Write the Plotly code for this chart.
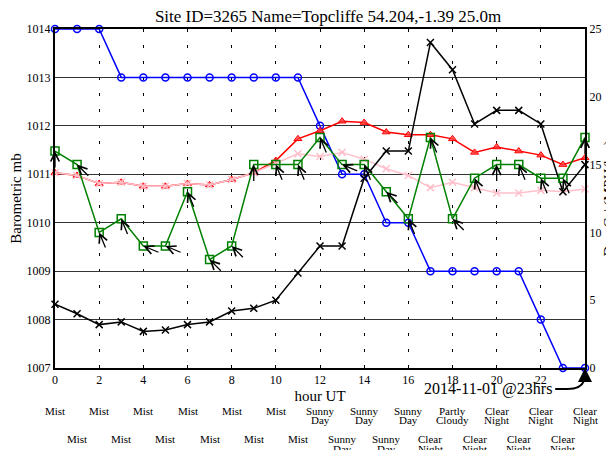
import plotly.graph_objects as go
import math

# ---------------- data ----------------
hours = list(range(25))
pressure = [1014, 1014, 1014, 1013, 1013, 1013, 1013, 1013, 1013, 1013, 1013, 1013,
            1012, 1011, 1011, 1010, 1010, 1009, 1009, 1009, 1009, 1009, 1008, 1007, 1007]
visibility = [4.7, 4.0, 3.2, 3.4, 2.7, 2.8, 3.2, 3.4, 4.2, 4.4, 5.0, 7.0,
              9, 9, 14, 16, 16, 24, 22, 18, 19, 19, 18, 13, 15]
temperature = [14.4, 14.2, 13.6, 13.7, 13.4, 13.4, 13.6, 13.5, 13.9, 14.4, 15.3, 16.9,
               17.5, 18.2, 18.1, 17.4, 17.2, 17.2, 16.9, 15.9, 16.3, 16.0, 15.7, 15.0, 15.5]
dewpoint = [14.4, 14.2, 13.6, 13.7, 13.4, 13.4, 13.6, 13.5, 13.9, 14.4, 15.1, 15.8,
            15.6, 15.9, 15.4, 14.7, 14.2, 13.3, 13.7, 13.3, 12.9, 12.9, 13.1, 13.0, 13.2]
wind_speed = [16, 15, 10, 11, 9, 9, 13, 8, 9, 15, 15, 15,
              17, 15, 15, 13, 11, 17, 11, 14, 15, 15, 14, 14, 17]
wind_dir = ["S", "SE", "SSE", "SSE", "ESE", "ESE", "SSE", "SE", "SE", "S", "SSE", "SSE",
            "SSE", "ESE", "SSE", "SE", "SSE", "SSE", "SE", "SSE", "S", "SSE", "SSE", "SSE", "S"]
weather = ["Mist"] * 12 + ["Sunny Day"] * 5 + ["Clear Night", "Partly Cloudy"] + ["Clear Night"] * 6
xtick_vals = list(range(0, 23, 2))
left_ticks = list(range(1007, 1015))
right_ticks = list(range(0, 26, 5))

title_text = "Site ID=3265 Name=Topcliffe 54.204,-1.39 25.0m"
stamp_text = "2014-11-01 @23hrs"
right_title = "Deg C / (MPH/km)"

compass = {"N": 0, "NNE": 22.5, "NE": 45, "ENE": 67.5, "E": 90, "ESE": 112.5, "SE": 135,
           "SSE": 157.5, "S": 180, "SSW": 202.5, "SW": 225, "WSW": 247.5, "W": 270,
           "WNW": 292.5, "NW": 315, "NNW": 337.5}

FONT = "Liberation Serif, Times New Roman, serif"

fig = go.Figure()

fig.add_trace(go.Scatter(x=hours, y=temperature, yaxis="y2", mode="lines+markers",
                         line=dict(color="red", width=1.5),
                         marker=dict(symbol="triangle-up", size=7, color="rgba(255,60,60,0.75)",
                                     line=dict(color="red", width=1)),
                         cliponaxis=False))
fig.add_trace(go.Scatter(x=hours, y=dewpoint, yaxis="y2", mode="lines+markers",
                         line=dict(color="pink", width=1.5),
                         marker=dict(symbol="x-thin-open", size=7, color="pink",
                                     line=dict(color="pink", width=1.5)),
                         cliponaxis=False))
fig.add_trace(go.Scatter(x=hours, y=pressure, mode="lines+markers",
                         line=dict(color="blue", width=1.5),
                         marker=dict(symbol="circle-open", size=7, color="blue",
                                     line=dict(color="blue", width=1.5)),
                         cliponaxis=False))
fig.add_trace(go.Scatter(x=hours, y=visibility, yaxis="y2", mode="lines+markers",
                         line=dict(color="black", width=1.5),
                         marker=dict(symbol="x-thin-open", size=7, color="black",
                                     line=dict(color="black", width=1.5)),
                         cliponaxis=False))
fig.add_trace(go.Scatter(x=hours, y=wind_speed, yaxis="y2", mode="lines+markers",
                         line=dict(color="green", width=1.5),
                         marker=dict(symbol="square-open", size=8, color="green",
                                     line=dict(color="green", width=1.5)),
                         cliponaxis=False))

annotations = []
# wind direction arrows
L = 18
for h, s, d in zip(hours, wind_speed, wind_dir):
    th = math.radians(compass[d])
    annotations.append(dict(x=h, y=s, xref="x", yref="y2", text="", showarrow=True,
                            ax=L * math.sin(th), ay=-L * math.cos(th),
                            arrowhead=5, arrowsize=1.3, arrowwidth=1.3, arrowcolor="black",
                            standoff=0, startstandoff=0))

# weather labels (two staggered rows)
row_first = [-0.126, -0.210]
line_dy = 0.028
for h, w in zip(hours, weather):
    r = h % 2
    for k, word in enumerate(w.split(" ")):
        annotations.append(dict(x=h, y=row_first[r] - k * line_dy, xref="x", yref="paper",
                                text=word, showarrow=False, yanchor="middle", xanchor="center",
                                font=dict(family=FONT, size=11, color="black")))

# date stamp
annotations.append(dict(x=19.6, y=-0.062, xref="x", yref="paper", text=stamp_text,
                        showarrow=False, xanchor="center", yanchor="middle",
                        font=dict(family=FONT, size=16, color="black")))
annotations.append(dict(x=hours[-1], y=pressure[-1], xref="x", yref="y", text="",
                        showarrow=True, ax=0, ay=12, arrowhead=2, arrowsize=1.4,
                        arrowwidth=2, arrowcolor="black", standoff=0))

# right-hand axis title (mostly beyond the window edge, as in the original)
annotations.append(dict(x=1.047, y=0.5, xref="paper", yref="paper", text=right_title,
                        showarrow=False, textangle=-90, xanchor="center", yanchor="middle",
                        font=dict(family=FONT, size=15, color="black")))

shapes = [dict(type="path", xref="x", yref="paper",
               path="M 22.65,-0.062 L 23.2,-0.062 Q 24,-0.062 24,-0.02",
               line=dict(color="black", width=2))]

# page has an 8px body margin, so the figure is sized to fit the 614x450 window
fig.update_layout(
    width=606, height=442,
    margin=dict(l=47, r=29, t=21, b=82, autoexpand=False),
    paper_bgcolor="white", plot_bgcolor="white",
    showlegend=False,
    font=dict(family=FONT, color="black", size=12),
    title=dict(text=title_text, x=0.5281, xanchor="center", y=0.981, yanchor="middle",
               font=dict(family=FONT, size=17, color="black")),
    xaxis=dict(range=[0, 24], tickvals=xtick_vals, showgrid=True, gridcolor="black",
               gridwidth=1.2, griddash="3px,13px", zeroline=False, automargin=False,
               showline=True, linecolor="black", linewidth=2, mirror=True,
               ticks="", tickfont=dict(family=FONT, size=12),
               title=dict(text="hour UT", standoff=4, font=dict(family=FONT, size=15))),
    yaxis=dict(range=[1007, 1014], tickvals=left_ticks, showgrid=True, gridcolor="#333",
               gridwidth=1, zeroline=False, showline=True, linecolor="black", linewidth=2,
               ticks="", tickfont=dict(family=FONT, size=12), automargin=False,
               title=dict(text="Barometric mb", standoff=9, font=dict(family=FONT, size=15))),
    yaxis2=dict(range=[0, 25], tickvals=right_ticks, overlaying="y", side="right",
                showgrid=False, zeroline=False, showline=True, linecolor="black", linewidth=2,
                ticks="", tickfont=dict(family=FONT, size=12), automargin=False),
    annotations=annotations,
    shapes=shapes,
)

fig.write_html("out.html")
